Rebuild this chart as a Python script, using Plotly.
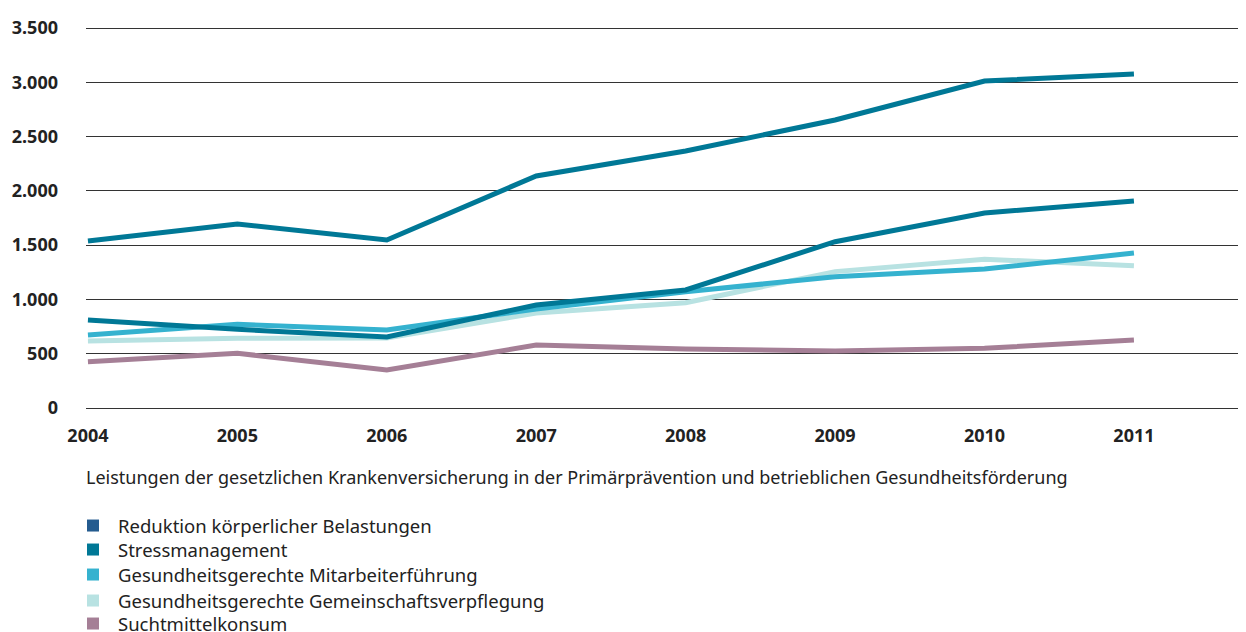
import plotly.graph_objects as go

years = [2004, 2005, 2006, 2007, 2008, 2009, 2010, 2011]

series_names = [
    "Reduktion körperlicher Belastungen",
    "Stressmanagement",
    "Gesundheitsgerechte Mitarbeiterführung",
    "Gesundheitsgerechte Gemeinschaftsverpflegung",
    "Suchtmittelkonsum",
]

reduktion = [1538, 1695, 1547, 2137, 2367, 2653, 3012, 3076]
stress = [810, 725, 654, 949, 1087, 1532, 1796, 1906]
mitarbeiter = [672, 771, 718, 912, 1071, 1209, 1280, 1427]
verpflegung = [617, 642, 645, 875, 970, 1256, 1370, 1311]
sucht = [427, 504, 350, 580, 543, 525, 550, 626]

line_colors = ["#007896", "#007896", "#35b2cf", "#b8e2e2", "#a57f96"]
legend_colors = ["#245b8f", "#007896", "#35b2cf", "#b8e2e2", "#a57f96"]

y_ticks = [0, 500, 1000, 1500, 2000, 2500, 3000, 3500]
y_ticktext = ["0", "500", "1.000", "1.500", "2.000", "2.500", "3.000", "3.500"]

caption = "Leistungen der gesetzlichen Krankenversicherung in der Primärprävention und betrieblichen Gesundheitsförderung"

FONT = "Noto Sans"

fig = go.Figure()

values = [reduktion, stress, mitarbeiter, verpflegung, sucht]
draw_order = [4, 3, 2, 1, 0]
for i in draw_order:
    fig.add_trace(go.Scatter(
        x=years, y=values[i], mode="lines",
        line=dict(color=line_colors[i], width=5),
        showlegend=False, hoverinfo="x+y", name=series_names[i],
    ))

legend_ids = ["legend", "legend2", "legend3", "legend4", "legend5"]
legend_ypos = [-0.3021, -0.3646, -0.4297, -0.4974, -0.5573]

for i, name in enumerate(series_names):
    fig.add_trace(go.Scatter(
        x=[None], y=[None], mode="markers", name=name,
        marker=dict(symbol="square", size=16, color=legend_colors[i]),
        showlegend=True, legend=legend_ids[i],
    ))

legend_style = dict(
    x=-0.0155, xanchor="left", yanchor="middle",
    orientation="v", itemwidth=40,
    font=dict(family=FONT, size=18.5, color="#222222"),
    bgcolor="rgba(0,0,0,0)", itemsizing="constant",
)

# The page body adds an 8px margin, so the figure is 8px smaller than the window.
fig.update_layout(
    width=1238, height=624,
    margin=dict(l=78, r=0, t=18, b=222, autoexpand=False),
    paper_bgcolor="white", plot_bgcolor="white",
    font=dict(family=FONT, color="#222222"),
    showlegend=True,
    annotations=[dict(
        text=caption, x=-0.002, xref="paper", xanchor="left",
        y=-0.1745, yref="paper", yanchor="middle", showarrow=False,
        font=dict(family=FONT, size=18, color="#222222"), align="left",
    )],
)
for lid, ypos in zip(legend_ids, legend_ypos):
    fig.update_layout({lid: dict(legend_style, y=ypos)})

fig.update_xaxes(
    range=[2003.987, 2011.75], tickvals=years, ticktext=[str(y) for y in years],
    showgrid=False, zeroline=False, showline=False, ticks="",
    tickfont=dict(family=FONT, size=18, color="#222222", weight="bold"),
    ticklabelstandoff=13, automargin=False,
)
fig.update_yaxes(
    range=[-18.4, 3518.4], tickvals=y_ticks, ticktext=y_ticktext,
    showgrid=True, gridcolor="#333333", gridwidth=1,
    zeroline=False, showline=False, ticks="",
    tickfont=dict(family=FONT, size=18, color="#222222", weight="bold"),
    ticklabelstandoff=27, automargin=False,
)

fig.write_html("out.html")
